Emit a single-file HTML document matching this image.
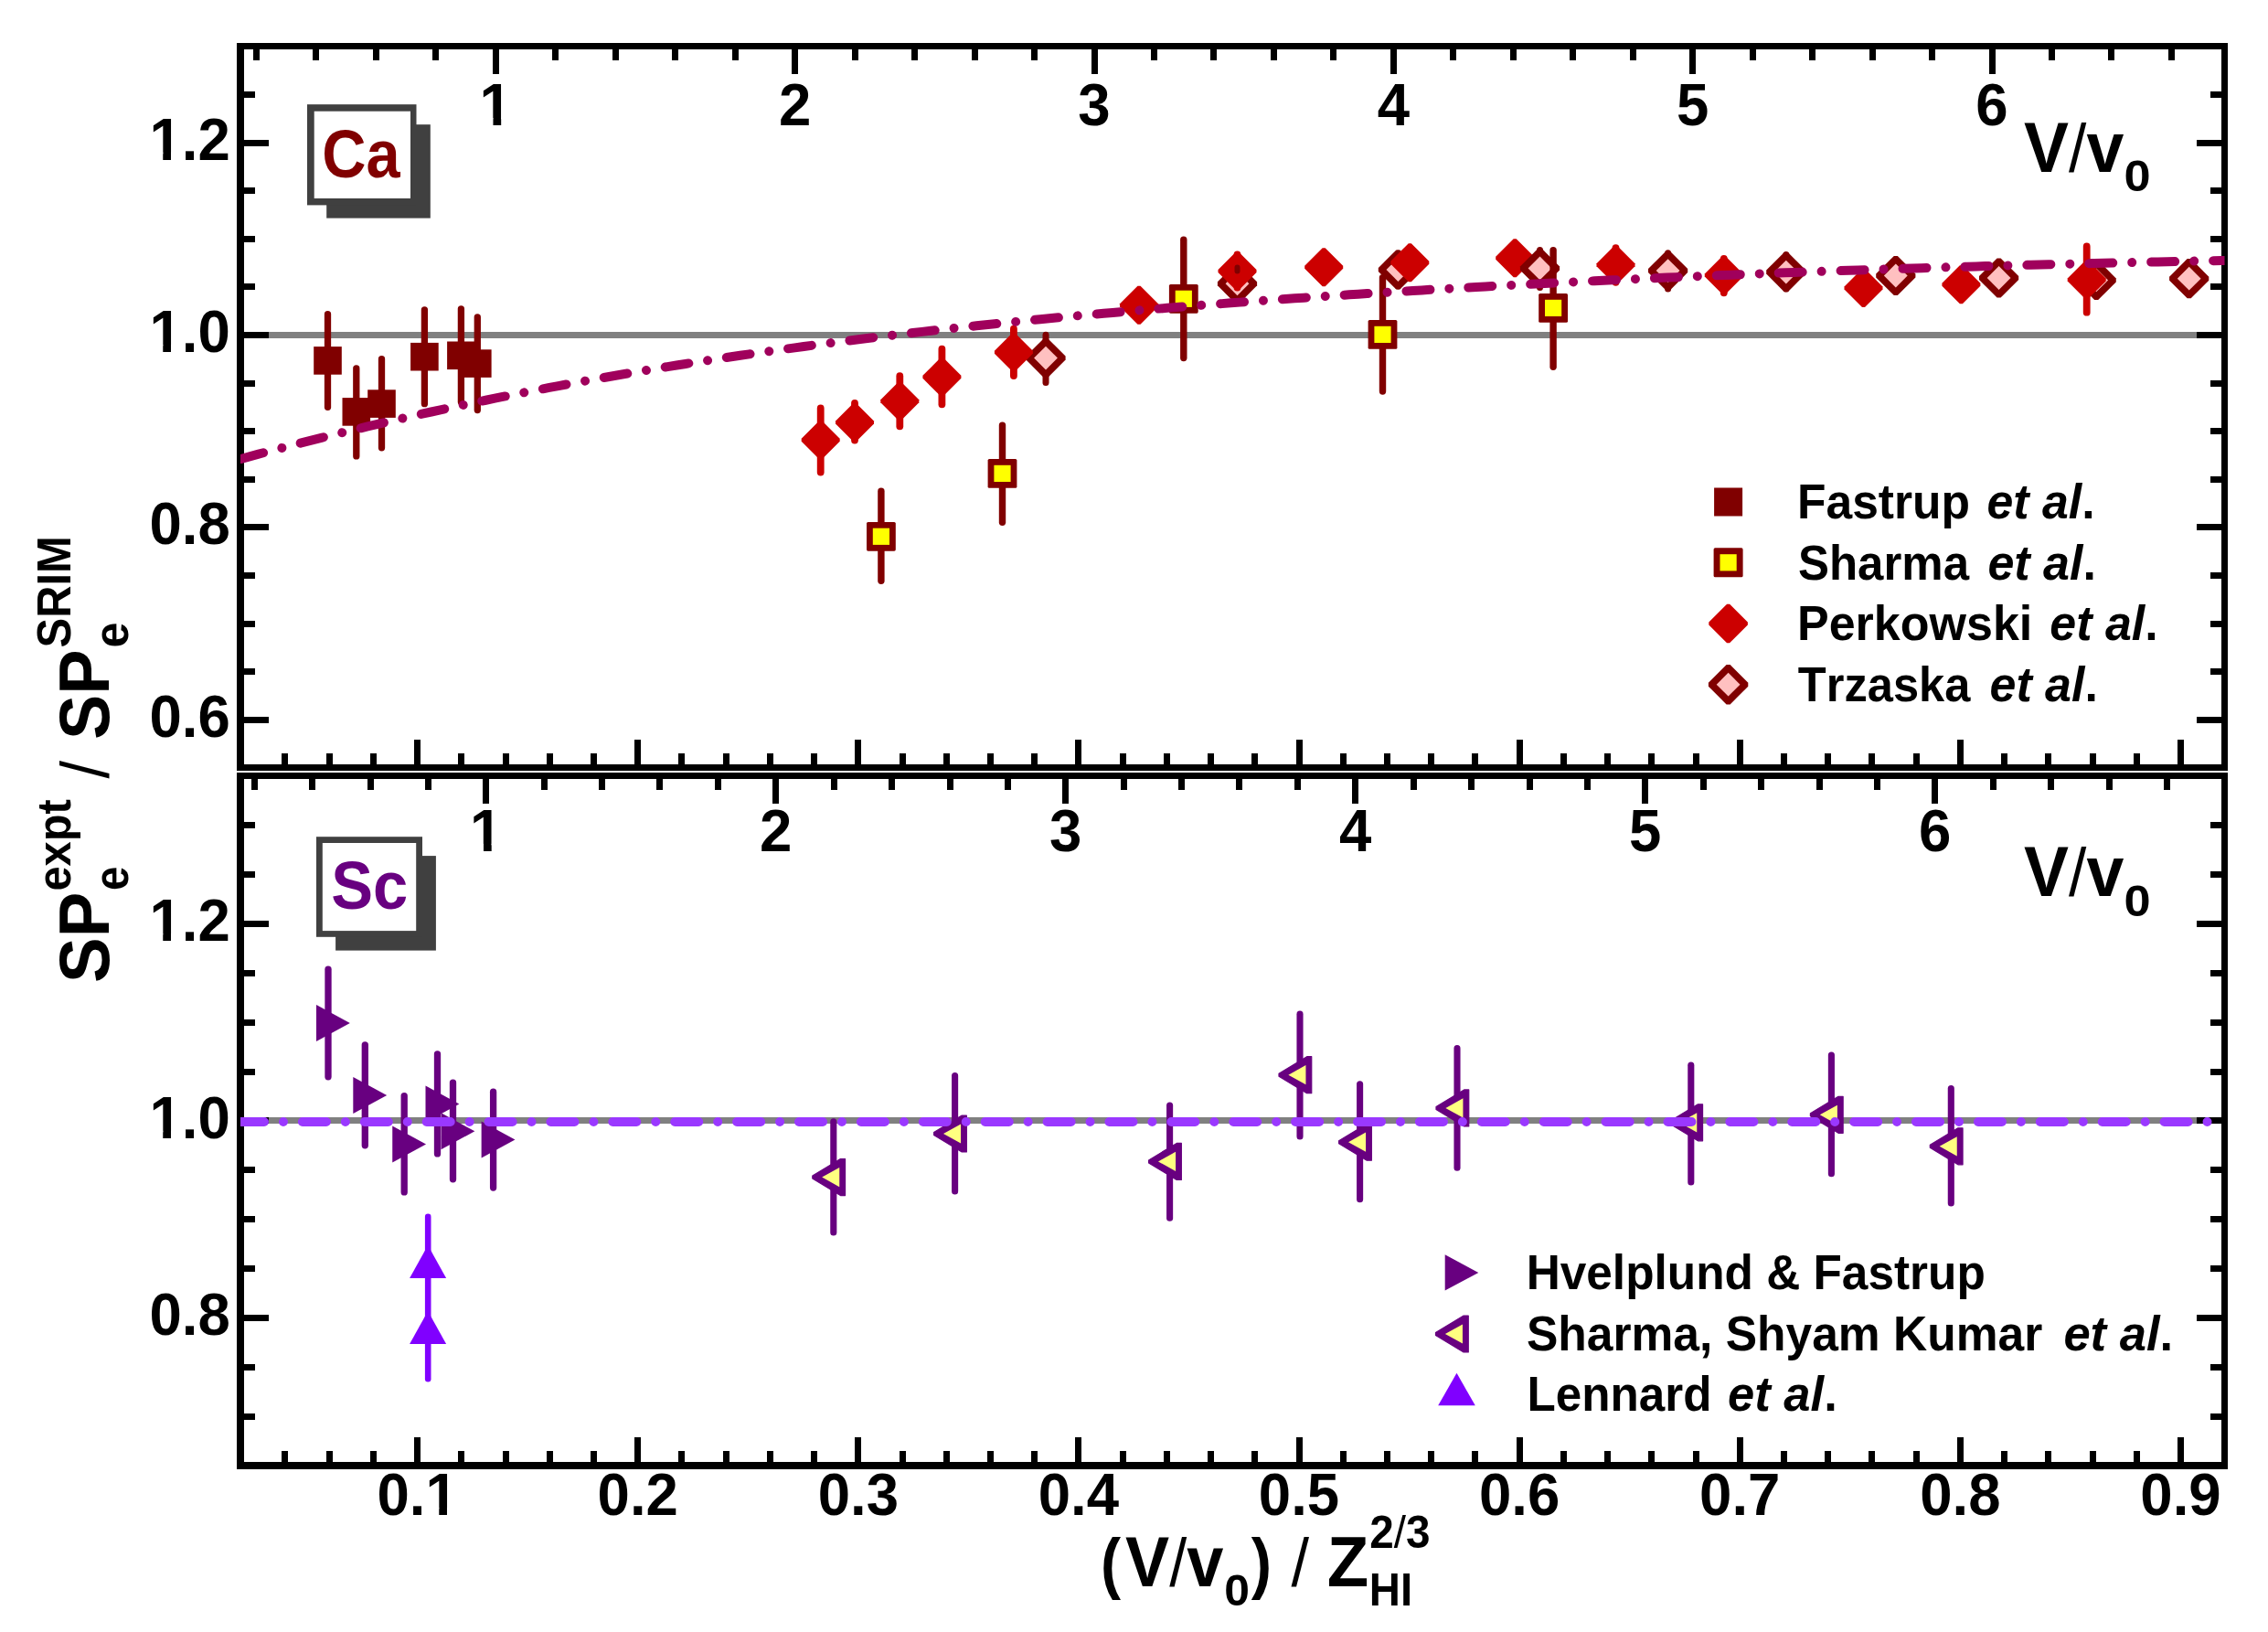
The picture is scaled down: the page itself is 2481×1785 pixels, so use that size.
<!DOCTYPE html>
<html lang="en"><head><meta charset="utf-8"><title>SP ratio vs reduced velocity</title>
<style>html,body{margin:0;padding:0;background:#fff}svg{display:block}text{font-kerning:none}</style></head><body>
<svg width="2481" height="1785" viewBox="0 0 2481 1785" font-family="'Liberation Sans', sans-serif" font-weight="bold">
<rect x="0" y="0" width="2481" height="1785" fill="#fff"/>
<defs>
<clipPath id="c1"><rect x="263" y="50" width="2170.5" height="790"/></clipPath>
<clipPath id="c2"><rect x="263" y="848" width="2170.5" height="756"/></clipPath>
</defs>
<g id="panel-ca">
<line x1="266" y1="366.5" x2="2431" y2="366.5" stroke="#808080" stroke-width="7"/>
<polygon points="1636.2,280.8 1655.7,261.3 1658.7,261.3 1678.2,280.8 1678.2,283.8 1658.7,303.3 1655.7,303.3 1636.2,283.8" fill="#cc0000"/>
<polygon points="2017.5,313.5 2037,294 2040,294 2059.5,313.5 2059.5,316.5 2040,336 2037,336 2017.5,316.5" fill="#cc0000"/>
<polygon points="2124.4,309.8 2143.9,290.3 2146.9,290.3 2166.4,309.8 2166.4,312.8 2146.9,332.3 2143.9,332.3 2124.4,312.8" fill="#cc0000"/>
<line x1="1144" y1="366.2" x2="1144" y2="418.5" stroke="#800000" stroke-width="7" stroke-linecap="round"/>
<polygon points="1122.4,389.6 1142,370 1146,370 1165.6,389.6 1165.6,393.6 1146,413.2 1142,413.2 1122.4,393.6" fill="#800000"/>
<polygon points="1131.1,391.6 1144,378.7 1156.9,391.6 1144,404.5" fill="#ffc0c0"/>
<polygon points="1331.9,308.3 1351.5,288.7 1355.5,288.7 1375.1,308.3 1375.1,312.3 1355.5,331.9 1351.5,331.9 1331.9,312.3" fill="#800000"/>
<polygon points="1340.6,310.3 1353.5,297.4 1366.4,310.3 1353.5,323.2" fill="#ffc0c0"/>
<line x1="1529.4" y1="277" x2="1529.4" y2="313" stroke="#800000" stroke-width="7" stroke-linecap="round"/>
<polygon points="1507.8,293 1527.4,273.4 1531.4,273.4 1551,293 1551,297 1531.4,316.6 1527.4,316.6 1507.8,297" fill="#800000"/>
<polygon points="1516.5,295 1529.4,282.1 1542.3,295 1529.4,307.9" fill="#ffc0c0"/>
<line x1="1684.5" y1="273.5" x2="1684.5" y2="314.5" stroke="#800000" stroke-width="7" stroke-linecap="round"/>
<polygon points="1662.9,291.4 1682.5,271.8 1686.5,271.8 1706.1,291.4 1706.1,295.4 1686.5,315 1682.5,315 1662.9,295.4" fill="#800000"/>
<polygon points="1671.6,293.4 1684.5,280.5 1697.4,293.4 1684.5,306.3" fill="#ffc0c0"/>
<line x1="1824.6" y1="276.7" x2="1824.6" y2="316.1" stroke="#800000" stroke-width="7" stroke-linecap="round"/>
<polygon points="1803,294.1 1822.6,274.5 1826.6,274.5 1846.2,294.1 1846.2,298.1 1826.6,317.7 1822.6,317.7 1803,298.1" fill="#800000"/>
<polygon points="1811.7,296.1 1824.6,283.2 1837.5,296.1 1824.6,309" fill="#ffc0c0"/>
<line x1="1953.8" y1="278.5" x2="1953.8" y2="316" stroke="#800000" stroke-width="7" stroke-linecap="round"/>
<polygon points="1932.2,295.6 1951.8,276 1955.8,276 1975.4,295.6 1975.4,299.6 1955.8,319.2 1951.8,319.2 1932.2,299.6" fill="#800000"/>
<polygon points="1940.9,297.6 1953.8,284.7 1966.7,297.6 1953.8,310.5" fill="#ffc0c0"/>
<polygon points="2052.2,299.5 2071.8,279.9 2075.8,279.9 2095.4,299.5 2095.4,303.5 2075.8,323.1 2071.8,323.1 2052.2,303.5" fill="#800000"/>
<polygon points="2060.9,301.5 2073.8,288.6 2086.7,301.5 2073.8,314.4" fill="#ffc0c0"/>
<polygon points="2165,302 2184.6,282.4 2188.6,282.4 2208.2,302 2208.2,306 2188.6,325.6 2184.6,325.6 2165,306" fill="#800000"/>
<polygon points="2173.7,304 2186.6,291.1 2199.5,304 2186.6,316.9" fill="#ffc0c0"/>
<polygon points="2271.6,304.4 2291.2,284.8 2295.2,284.8 2314.8,304.4 2314.8,308.4 2295.2,328 2291.2,328 2271.6,308.4" fill="#800000"/>
<polygon points="2280.3,306.4 2293.2,293.5 2306.1,306.4 2293.2,319.3" fill="#ffc0c0"/>
<polygon points="2373.1,302.7 2392.7,283.1 2396.7,283.1 2416.3,302.7 2416.3,306.7 2396.7,326.3 2392.7,326.3 2373.1,306.7" fill="#800000"/>
<polygon points="2381.8,304.7 2394.7,291.8 2407.6,304.7 2394.7,317.6" fill="#ffc0c0"/>
<line x1="897.7" y1="446.5" x2="897.7" y2="516.5" stroke="#cc0000" stroke-width="7.8" stroke-linecap="round"/>
<polygon points="876.7,479.7 896.2,460.2 899.2,460.2 918.7,479.7 918.7,482.7 899.2,502.2 896.2,502.2 876.7,482.7" fill="#cc0000"/>
<line x1="935" y1="441" x2="935" y2="481.5" stroke="#cc0000" stroke-width="7.8" stroke-linecap="round"/>
<polygon points="914,460.4 933.5,440.9 936.5,440.9 956,460.4 956,463.4 936.5,482.9 933.5,482.9 914,463.4" fill="#cc0000"/>
<line x1="984.3" y1="411.2" x2="984.3" y2="466.3" stroke="#cc0000" stroke-width="7.8" stroke-linecap="round"/>
<polygon points="963.3,437.3 982.8,417.8 985.8,417.8 1005.3,437.3 1005.3,440.3 985.8,459.8 982.8,459.8 963.3,440.3" fill="#cc0000"/>
<line x1="1030.4" y1="381.7" x2="1030.4" y2="442.3" stroke="#cc0000" stroke-width="7.8" stroke-linecap="round"/>
<polygon points="1009.4,410.8 1028.9,391.3 1031.9,391.3 1051.4,410.8 1051.4,413.8 1031.9,433.3 1028.9,433.3 1009.4,413.8" fill="#cc0000"/>
<line x1="1108.9" y1="359.7" x2="1108.9" y2="411.1" stroke="#cc0000" stroke-width="7.8" stroke-linecap="round"/>
<polygon points="1087.9,383.8 1107.4,364.3 1110.4,364.3 1129.9,383.8 1129.9,386.8 1110.4,406.3 1107.4,406.3 1087.9,386.8" fill="#cc0000"/>
<polygon points="1225,332.2 1244.5,312.7 1247.5,312.7 1267,332.2 1267,335.2 1247.5,354.7 1244.5,354.7 1225,335.2" fill="#cc0000"/>
<line x1="1353.5" y1="278.4" x2="1353.5" y2="314.6" stroke="#cc0000" stroke-width="7.8" stroke-linecap="round"/>
<polygon points="1332.5,295 1352,275.5 1355,275.5 1374.5,295 1374.5,298 1355,317.5 1352,317.5 1332.5,298" fill="#cc0000"/>
<polygon points="1427.2,290.8 1446.7,271.3 1449.7,271.3 1469.2,290.8 1469.2,293.8 1449.7,313.3 1446.7,313.3 1427.2,293.8" fill="#cc0000"/>
<polygon points="1521.3,285.8 1540.8,266.3 1543.8,266.3 1563.3,285.8 1563.3,288.8 1543.8,308.3 1540.8,308.3 1521.3,288.8" fill="#cc0000"/>
<line x1="1767.5" y1="271.1" x2="1767.5" y2="308.8" stroke="#cc0000" stroke-width="7.8" stroke-linecap="round"/>
<polygon points="1746.5,288.3 1766,268.8 1769,268.8 1788.5,288.3 1788.5,291.3 1769,310.8 1766,310.8 1746.5,291.3" fill="#cc0000"/>
<line x1="1885.8" y1="282.9" x2="1885.8" y2="320.3" stroke="#cc0000" stroke-width="7.8" stroke-linecap="round"/>
<polygon points="1864.8,299.6 1884.3,280.1 1887.3,280.1 1906.8,299.6 1906.8,302.6 1887.3,322.1 1884.3,322.1 1864.8,302.6" fill="#cc0000"/>
<line x1="2282.7" y1="269.4" x2="2282.7" y2="341.7" stroke="#cc0000" stroke-width="7.8" stroke-linecap="round"/>
<polygon points="2261.7,304.4 2281.2,284.9 2284.2,284.9 2303.7,304.4 2303.7,307.4 2284.2,326.9 2281.2,326.9 2261.7,307.4" fill="#cc0000"/>
<line x1="1353.5" y1="292.5" x2="1353.5" y2="296.5" stroke="#800000" stroke-width="6" stroke-linecap="round"/>
<line x1="963.9" y1="537.3" x2="963.9" y2="635.2" stroke="#800000" stroke-width="7.4" stroke-linecap="round"/>
<rect x="948" y="570.9" width="31.8" height="31.8" rx="1.6" fill="#800000"/>
<rect x="954.8" y="577.7" width="18.2" height="18.2" fill="#ffff00"/>
<line x1="1096.5" y1="465.1" x2="1096.5" y2="571.3" stroke="#800000" stroke-width="7.4" stroke-linecap="round"/>
<rect x="1080.6" y="502" width="31.8" height="31.8" rx="1.6" fill="#800000"/>
<rect x="1087.4" y="508.8" width="18.2" height="18.2" fill="#ffff00"/>
<line x1="1294.8" y1="262.2" x2="1294.8" y2="391.5" stroke="#800000" stroke-width="7.4" stroke-linecap="round"/>
<rect x="1278.9" y="310.9" width="31.8" height="31.8" rx="1.6" fill="#800000"/>
<rect x="1285.7" y="317.7" width="18.2" height="18.2" fill="#ffff00"/>
<line x1="1512.5" y1="303.7" x2="1512.5" y2="428.1" stroke="#800000" stroke-width="7.4" stroke-linecap="round"/>
<rect x="1496.6" y="350" width="31.8" height="31.8" rx="1.6" fill="#800000"/>
<rect x="1503.4" y="356.8" width="18.2" height="18.2" fill="#ffff00"/>
<line x1="1699.1" y1="273.6" x2="1699.1" y2="401.3" stroke="#800000" stroke-width="7.4" stroke-linecap="round"/>
<rect x="1683.2" y="321" width="31.8" height="31.8" rx="1.6" fill="#800000"/>
<rect x="1690" y="327.8" width="18.2" height="18.2" fill="#ffff00"/>
<line x1="358.5" y1="343.65" x2="358.5" y2="445.25" stroke="#800000" stroke-width="7.3" stroke-linecap="round"/>
<rect x="343.2" y="379.1" width="30.6" height="30.6" fill="#800000"/>
<line x1="389.8" y1="402.95" x2="389.8" y2="498.95" stroke="#800000" stroke-width="7.3" stroke-linecap="round"/>
<rect x="374.5" y="435.1" width="30.6" height="30.6" fill="#800000"/>
<line x1="417.5" y1="392.65" x2="417.5" y2="489.85" stroke="#800000" stroke-width="7.3" stroke-linecap="round"/>
<rect x="402.2" y="426.3" width="30.6" height="30.6" fill="#800000"/>
<line x1="464.4" y1="338.95" x2="464.4" y2="441.65" stroke="#800000" stroke-width="7.3" stroke-linecap="round"/>
<rect x="449.1" y="374.9" width="30.6" height="30.6" fill="#800000"/>
<line x1="504.4" y1="337.85" x2="504.4" y2="439.75" stroke="#800000" stroke-width="7.3" stroke-linecap="round"/>
<rect x="489.1" y="373.5" width="30.6" height="30.6" fill="#800000"/>
<line x1="522.3" y1="346.95" x2="522.3" y2="448.55" stroke="#800000" stroke-width="7.3" stroke-linecap="round"/>
<rect x="507" y="382.3" width="30.6" height="30.6" fill="#800000"/>
<rect x="357.2" y="136.2" width="113.6" height="102.4" fill="#404040"/>
<rect x="336" y="114.2" width="119.5" height="110.2" fill="#404040"/>
<rect x="343.7" y="121.7" width="105.3" height="95.3" fill="#fff"/>
<text transform="translate(352.26,194.2) scale(0.8946,1)" font-size="74.6" fill="#800000">Ca</text>
<rect x="1875.1" y="533.5" width="31" height="31" fill="#800000"/>
<rect x="1874.6" y="599.3" width="32" height="32" rx="1.6" fill="#800000"/>
<rect x="1881.5" y="606.2" width="18.2" height="18.2" fill="#ffff00"/>
<polygon points="1869.3,680.5 1889.1,660.7 1892.1,660.7 1911.9,680.5 1911.9,683.5 1892.1,703.3 1889.1,703.3 1869.3,683.5" fill="#cc0000"/>
<polygon points="1868.9,746.7 1888.6,727 1892.6,727 1912.3,746.7 1912.3,750.7 1892.6,770.4 1888.6,770.4 1868.9,750.7" fill="#800000"/>
<polygon points="1877.7,748.7 1890.6,735.8 1903.5,748.7 1890.6,761.6" fill="#ffc0c0"/>
<text transform="translate(1966.05,567) scale(0.9543,1)" font-size="54" fill="#000">Fastrup</text>
<text transform="translate(2173.5,567) scale(0.9603,1)" font-size="54" fill="#000"><tspan font-style="italic">et al</tspan>.</text>
<text transform="translate(1966.93,633.8) scale(0.9447,1)" font-size="54" fill="#000">Sharma</text>
<text transform="translate(2174.4,633.8) scale(0.9637,1)" font-size="54" fill="#000"><tspan font-style="italic">et al</tspan>.</text>
<text transform="translate(1966.02,700) scale(0.9630,1)" font-size="54" fill="#000">Perkowski</text>
<text transform="translate(2242.3,700) scale(0.9620,1)" font-size="54" fill="#000"><tspan font-style="italic">et al</tspan>.</text>
<text transform="translate(1966.83,766.6) scale(0.9374,1)" font-size="54" fill="#000">Trzaska</text>
<text transform="translate(2176.5,766.6) scale(0.9620,1)" font-size="54" fill="#000"><tspan font-style="italic">et al</tspan>.</text>
<text transform="translate(2214.1,187.5) scale(0.9422,1)" font-size="78" fill="#000">V<tspan font-weight="normal" font-size="73.87">/</tspan>v</text>
<text transform="translate(2323.53,208.9) scale(1.0976,1)" font-size="47.7" fill="#000">0</text>
</g>
<g id="panel-sc">
<line x1="266" y1="1225.5" x2="2431" y2="1225.5" stroke="#808080" stroke-width="7"/>
<line x1="359" y1="1060.15" x2="359" y2="1177.85" stroke="#680080" stroke-width="7.3" stroke-linecap="round"/>
<polygon points="346.03,1099 382.83,1119 346.03,1139" fill="#680080"/>
<line x1="399.3" y1="1142.85" x2="399.3" y2="1252.75" stroke="#680080" stroke-width="7.3" stroke-linecap="round"/>
<polygon points="386.33,1177.9 423.13,1197.9 386.33,1217.9" fill="#680080"/>
<line x1="442.2" y1="1198.75" x2="442.2" y2="1303.95" stroke="#680080" stroke-width="7.3" stroke-linecap="round"/>
<polygon points="429.23,1231.4 466.03,1251.4 429.23,1271.4" fill="#680080"/>
<line x1="478.5" y1="1152.85" x2="478.5" y2="1261.95" stroke="#680080" stroke-width="7.3" stroke-linecap="round"/>
<polygon points="465.53,1187.5 502.33,1207.5 465.53,1227.5" fill="#680080"/>
<line x1="495.5" y1="1184.05" x2="495.5" y2="1289.85" stroke="#680080" stroke-width="7.3" stroke-linecap="round"/>
<polygon points="482.53,1217.3 519.33,1237.3 482.53,1257.3" fill="#680080"/>
<line x1="539.6" y1="1194.25" x2="539.6" y2="1299.05" stroke="#680080" stroke-width="7.3" stroke-linecap="round"/>
<polygon points="526.63,1226.6 563.43,1246.6 526.63,1266.6" fill="#680080"/>
<line x1="911.8" y1="1226.85" x2="911.8" y2="1348.05" stroke="#680080" stroke-width="7.1" stroke-linecap="round"/>
<polygon points="888.8,1286.1 919.4,1267.6 924.55,1267.6 924.55,1307.6 919.4,1307.6 888.8,1289.1" fill="#680080" stroke="#680080" stroke-width="1.2" stroke-linejoin="round"/>
<polygon points="899.2,1287.6 918.25,1277 918.25,1298.2" fill="#ffff80"/>
<line x1="1044.6" y1="1176.55" x2="1044.6" y2="1303.05" stroke="#680080" stroke-width="7.1" stroke-linecap="round"/>
<polygon points="1021.6,1238.5 1052.2,1220 1057.35,1220 1057.35,1260 1052.2,1260 1021.6,1241.5" fill="#680080" stroke="#680080" stroke-width="1.2" stroke-linejoin="round"/>
<polygon points="1032,1240 1051.05,1229.4 1051.05,1250.6" fill="#ffff80"/>
<line x1="1279.6" y1="1209.15" x2="1279.6" y2="1332.15" stroke="#680080" stroke-width="7.1" stroke-linecap="round"/>
<polygon points="1256.6,1268.9 1287.2,1250.4 1292.35,1250.4 1292.35,1290.4 1287.2,1290.4 1256.6,1271.9" fill="#680080" stroke="#680080" stroke-width="1.2" stroke-linejoin="round"/>
<polygon points="1267,1270.4 1286.05,1259.8 1286.05,1281" fill="#ffff80"/>
<line x1="1422" y1="1109.15" x2="1422" y2="1243.05" stroke="#680080" stroke-width="7.1" stroke-linecap="round"/>
<polygon points="1399,1174.2 1429.6,1155.7 1434.75,1155.7 1434.75,1195.7 1429.6,1195.7 1399,1177.2" fill="#680080" stroke="#680080" stroke-width="1.2" stroke-linejoin="round"/>
<polygon points="1409.4,1175.7 1428.45,1165.1 1428.45,1186.3" fill="#ffff80"/>
<line x1="1487.6" y1="1185.85" x2="1487.6" y2="1311.75" stroke="#680080" stroke-width="7.1" stroke-linecap="round"/>
<polygon points="1464.6,1247.7 1495.2,1229.2 1500.35,1229.2 1500.35,1269.2 1495.2,1269.2 1464.6,1250.7" fill="#680080" stroke="#680080" stroke-width="1.2" stroke-linejoin="round"/>
<polygon points="1475,1249.2 1494.05,1238.6 1494.05,1259.8" fill="#ffff80"/>
<line x1="1594" y1="1146.65" x2="1594" y2="1277.15" stroke="#680080" stroke-width="7.1" stroke-linecap="round"/>
<polygon points="1571,1210.4 1601.6,1191.9 1606.75,1191.9 1606.75,1231.9 1601.6,1231.9 1571,1213.4" fill="#680080" stroke="#680080" stroke-width="1.2" stroke-linejoin="round"/>
<polygon points="1581.4,1211.9 1600.45,1201.3 1600.45,1222.5" fill="#ffff80"/>
<line x1="1849.8" y1="1165.15" x2="1849.8" y2="1293.05" stroke="#680080" stroke-width="7.1" stroke-linecap="round"/>
<polygon points="1826.8,1226.3 1857.4,1207.8 1862.55,1207.8 1862.55,1247.8 1857.4,1247.8 1826.8,1229.3" fill="#680080" stroke="#680080" stroke-width="1.2" stroke-linejoin="round"/>
<polygon points="1837.2,1227.8 1856.25,1217.2 1856.25,1238.4" fill="#ffff80"/>
<line x1="2003.4" y1="1153.95" x2="2003.4" y2="1283.75" stroke="#680080" stroke-width="7.1" stroke-linecap="round"/>
<polygon points="1980.4,1217.8 2011,1199.3 2016.15,1199.3 2016.15,1239.3 2011,1239.3 1980.4,1220.8" fill="#680080" stroke="#680080" stroke-width="1.2" stroke-linejoin="round"/>
<polygon points="1990.8,1219.3 2009.85,1208.7 2009.85,1229.9" fill="#ffff80"/>
<line x1="2134.3" y1="1190.65" x2="2134.3" y2="1315.95" stroke="#680080" stroke-width="7.1" stroke-linecap="round"/>
<polygon points="2111.3,1252.3 2141.9,1233.8 2147.05,1233.8 2147.05,1273.8 2141.9,1273.8 2111.3,1255.3" fill="#680080" stroke="#680080" stroke-width="1.2" stroke-linejoin="round"/>
<polygon points="2121.7,1253.8 2140.75,1243.2 2140.75,1264.4" fill="#ffff80"/>
<line x1="468.2" y1="1330.8" x2="468.2" y2="1508.2" stroke="#8000ff" stroke-width="6.6" stroke-linecap="round"/>
<polygon points="448.1,1398 468.1,1362 488.1,1398" fill="#8000ff"/>
<polygon points="448.1,1470 468.1,1434 488.1,1470" fill="#8000ff"/>
<rect x="367.1" y="936.1" width="109.8" height="103.5" fill="#404040"/>
<rect x="346" y="915.2" width="116" height="109.6" fill="#404040"/>
<rect x="352.8" y="922" width="102.4" height="96.1" fill="#fff"/>
<text transform="translate(362.22,993.9) scale(0.9205,1)" font-size="74.6" fill="#680080">Sc</text>
<polygon points="1580.7,1372.2 1617.3,1391.9 1580.7,1411.6" fill="#680080"/>
<polygon points="1570.5,1457.5 1601.1,1439 1606.25,1439 1606.25,1479 1601.1,1479 1570.5,1460.5" fill="#680080" stroke="#680080" stroke-width="1.2" stroke-linejoin="round"/>
<polygon points="1580.9,1459 1599.95,1448.4 1599.95,1469.6" fill="#ffff80"/>
<polygon points="1573.2,1537.33 1593.5,1501.83 1613.8,1537.33" fill="#8000ff"/>
<text transform="translate(1669.66,1409.8) scale(0.9512,1)" font-size="54" fill="#000">Hvelplund &amp; Fastrup</text>
<text transform="translate(1669.91,1477) scale(0.9549,1)" font-size="54" fill="#000">Sharma, Shyam Kumar</text>
<text transform="translate(2257.38,1477) scale(0.9730,1)" font-size="54" fill="#000"><tspan font-style="italic">et al</tspan>.</text>
<text transform="translate(1670.47,1542.5) scale(0.9483,1)" font-size="54" fill="#000">Lennard</text>
<text transform="translate(1889.98,1542.5) scale(0.9739,1)" font-size="54" fill="#000"><tspan font-style="italic">et al</tspan>.</text>
<text transform="translate(2214.1,980.3) scale(0.9422,1)" font-size="78" fill="#000">V<tspan font-weight="normal" font-size="73.87">/</tspan>v</text>
<text transform="translate(2323.53,1001.7) scale(1.0976,1)" font-size="47.7" fill="#000">0</text>
</g>
<g id="axes" fill="#000">
<rect x="277" y="48" width="7" height="18" fill="#000"/>
<rect x="342" y="48" width="7" height="18" fill="#000"/>
<rect x="408" y="48" width="7" height="18" fill="#000"/>
<rect x="473" y="48" width="7" height="18" fill="#000"/>
<rect x="539" y="48" width="7" height="33" fill="#000"/>
<rect x="604" y="48" width="7" height="18" fill="#000"/>
<rect x="670" y="48" width="7" height="18" fill="#000"/>
<rect x="735" y="48" width="7" height="18" fill="#000"/>
<rect x="801" y="48" width="7" height="18" fill="#000"/>
<rect x="866" y="48" width="7" height="33" fill="#000"/>
<rect x="932" y="48" width="7" height="18" fill="#000"/>
<rect x="997" y="48" width="7" height="18" fill="#000"/>
<rect x="1063" y="48" width="7" height="18" fill="#000"/>
<rect x="1128" y="48" width="7" height="18" fill="#000"/>
<rect x="1194" y="48" width="7" height="33" fill="#000"/>
<rect x="1259" y="48" width="7" height="18" fill="#000"/>
<rect x="1324" y="48" width="7" height="18" fill="#000"/>
<rect x="1390" y="48" width="7" height="18" fill="#000"/>
<rect x="1455" y="48" width="7" height="18" fill="#000"/>
<rect x="1521" y="48" width="7" height="33" fill="#000"/>
<rect x="1586" y="48" width="7" height="18" fill="#000"/>
<rect x="1652" y="48" width="7" height="18" fill="#000"/>
<rect x="1717" y="48" width="7" height="18" fill="#000"/>
<rect x="1783" y="48" width="7" height="18" fill="#000"/>
<rect x="1848" y="48" width="7" height="33" fill="#000"/>
<rect x="1914" y="48" width="7" height="18" fill="#000"/>
<rect x="1979" y="48" width="7" height="18" fill="#000"/>
<rect x="2045" y="48" width="7" height="18" fill="#000"/>
<rect x="2110" y="48" width="7" height="18" fill="#000"/>
<rect x="2176" y="48" width="7" height="33" fill="#000"/>
<rect x="2241" y="48" width="7" height="18" fill="#000"/>
<rect x="2306" y="48" width="7" height="18" fill="#000"/>
<rect x="2372" y="48" width="7" height="18" fill="#000"/>
<rect x="308" y="824" width="7" height="18" fill="#000"/>
<rect x="357" y="824" width="7" height="18" fill="#000"/>
<rect x="405" y="824" width="7" height="18" fill="#000"/>
<rect x="453" y="809" width="7" height="33" fill="#000"/>
<rect x="501" y="824" width="7" height="18" fill="#000"/>
<rect x="550" y="824" width="7" height="18" fill="#000"/>
<rect x="598" y="824" width="7" height="18" fill="#000"/>
<rect x="646" y="824" width="7" height="18" fill="#000"/>
<rect x="694" y="809" width="7" height="33" fill="#000"/>
<rect x="742" y="824" width="7" height="18" fill="#000"/>
<rect x="791" y="824" width="7" height="18" fill="#000"/>
<rect x="839" y="824" width="7" height="18" fill="#000"/>
<rect x="887" y="824" width="7" height="18" fill="#000"/>
<rect x="935" y="809" width="7" height="33" fill="#000"/>
<rect x="984" y="824" width="7" height="18" fill="#000"/>
<rect x="1032" y="824" width="7" height="18" fill="#000"/>
<rect x="1080" y="824" width="7" height="18" fill="#000"/>
<rect x="1128" y="824" width="7" height="18" fill="#000"/>
<rect x="1176" y="809" width="7" height="33" fill="#000"/>
<rect x="1225" y="824" width="7" height="18" fill="#000"/>
<rect x="1273" y="824" width="7" height="18" fill="#000"/>
<rect x="1321" y="824" width="7" height="18" fill="#000"/>
<rect x="1369" y="824" width="7" height="18" fill="#000"/>
<rect x="1418" y="809" width="7" height="33" fill="#000"/>
<rect x="1466" y="824" width="7" height="18" fill="#000"/>
<rect x="1514" y="824" width="7" height="18" fill="#000"/>
<rect x="1562" y="824" width="7" height="18" fill="#000"/>
<rect x="1610" y="824" width="7" height="18" fill="#000"/>
<rect x="1659" y="809" width="7" height="33" fill="#000"/>
<rect x="1707" y="824" width="7" height="18" fill="#000"/>
<rect x="1755" y="824" width="7" height="18" fill="#000"/>
<rect x="1803" y="824" width="7" height="18" fill="#000"/>
<rect x="1852" y="824" width="7" height="18" fill="#000"/>
<rect x="1900" y="809" width="7" height="33" fill="#000"/>
<rect x="1948" y="824" width="7" height="18" fill="#000"/>
<rect x="1996" y="824" width="7" height="18" fill="#000"/>
<rect x="2044" y="824" width="7" height="18" fill="#000"/>
<rect x="2093" y="824" width="7" height="18" fill="#000"/>
<rect x="2141" y="809" width="7" height="33" fill="#000"/>
<rect x="2189" y="824" width="7" height="18" fill="#000"/>
<rect x="2237" y="824" width="7" height="18" fill="#000"/>
<rect x="2286" y="824" width="7" height="18" fill="#000"/>
<rect x="2334" y="824" width="7" height="18" fill="#000"/>
<rect x="2382" y="809" width="7" height="33" fill="#000"/>
<rect x="260" y="784" width="34" height="7" fill="#000"/>
<rect x="2403" y="784" width="33" height="7" fill="#000"/>
<rect x="260" y="731" width="19" height="7" fill="#000"/>
<rect x="2418" y="731" width="18" height="7" fill="#000"/>
<rect x="260" y="679" width="19" height="7" fill="#000"/>
<rect x="2418" y="679" width="18" height="7" fill="#000"/>
<rect x="260" y="626" width="19" height="7" fill="#000"/>
<rect x="2418" y="626" width="18" height="7" fill="#000"/>
<rect x="260" y="573" width="34" height="7" fill="#000"/>
<rect x="2403" y="573" width="33" height="7" fill="#000"/>
<rect x="260" y="521" width="19" height="7" fill="#000"/>
<rect x="2418" y="521" width="18" height="7" fill="#000"/>
<rect x="260" y="468" width="19" height="7" fill="#000"/>
<rect x="2418" y="468" width="18" height="7" fill="#000"/>
<rect x="260" y="416" width="19" height="7" fill="#000"/>
<rect x="2418" y="416" width="18" height="7" fill="#000"/>
<rect x="260" y="363" width="34" height="7" fill="#000"/>
<rect x="2403" y="363" width="33" height="7" fill="#000"/>
<rect x="260" y="310" width="19" height="7" fill="#000"/>
<rect x="2418" y="310" width="18" height="7" fill="#000"/>
<rect x="260" y="258" width="19" height="7" fill="#000"/>
<rect x="2418" y="258" width="18" height="7" fill="#000"/>
<rect x="260" y="205" width="19" height="7" fill="#000"/>
<rect x="2418" y="205" width="18" height="7" fill="#000"/>
<rect x="260" y="153" width="34" height="7" fill="#000"/>
<rect x="2403" y="153" width="33" height="7" fill="#000"/>
<rect x="260" y="100" width="19" height="7" fill="#000"/>
<rect x="2418" y="100" width="18" height="7" fill="#000"/>
<rect x="275" y="846" width="7" height="18" fill="#000"/>
<rect x="338" y="846" width="7" height="18" fill="#000"/>
<rect x="402" y="846" width="7" height="18" fill="#000"/>
<rect x="465" y="846" width="7" height="18" fill="#000"/>
<rect x="528" y="846" width="7" height="33" fill="#000"/>
<rect x="592" y="846" width="7" height="18" fill="#000"/>
<rect x="655" y="846" width="7" height="18" fill="#000"/>
<rect x="718" y="846" width="7" height="18" fill="#000"/>
<rect x="782" y="846" width="7" height="18" fill="#000"/>
<rect x="845" y="846" width="7" height="33" fill="#000"/>
<rect x="909" y="846" width="7" height="18" fill="#000"/>
<rect x="972" y="846" width="7" height="18" fill="#000"/>
<rect x="1036" y="846" width="7" height="18" fill="#000"/>
<rect x="1099" y="846" width="7" height="18" fill="#000"/>
<rect x="1162" y="846" width="7" height="33" fill="#000"/>
<rect x="1226" y="846" width="7" height="18" fill="#000"/>
<rect x="1289" y="846" width="7" height="18" fill="#000"/>
<rect x="1352" y="846" width="7" height="18" fill="#000"/>
<rect x="1416" y="846" width="7" height="18" fill="#000"/>
<rect x="1479" y="846" width="7" height="33" fill="#000"/>
<rect x="1543" y="846" width="7" height="18" fill="#000"/>
<rect x="1606" y="846" width="7" height="18" fill="#000"/>
<rect x="1670" y="846" width="7" height="18" fill="#000"/>
<rect x="1733" y="846" width="7" height="18" fill="#000"/>
<rect x="1796" y="846" width="7" height="33" fill="#000"/>
<rect x="1860" y="846" width="7" height="18" fill="#000"/>
<rect x="1923" y="846" width="7" height="18" fill="#000"/>
<rect x="1987" y="846" width="7" height="18" fill="#000"/>
<rect x="2050" y="846" width="7" height="18" fill="#000"/>
<rect x="2113" y="846" width="7" height="33" fill="#000"/>
<rect x="2177" y="846" width="7" height="18" fill="#000"/>
<rect x="2240" y="846" width="7" height="18" fill="#000"/>
<rect x="2304" y="846" width="7" height="18" fill="#000"/>
<rect x="2367" y="846" width="7" height="18" fill="#000"/>
<rect x="308" y="1587" width="7" height="19" fill="#000"/>
<rect x="357" y="1587" width="7" height="19" fill="#000"/>
<rect x="405" y="1587" width="7" height="19" fill="#000"/>
<rect x="453" y="1572" width="7" height="34" fill="#000"/>
<rect x="501" y="1587" width="7" height="19" fill="#000"/>
<rect x="550" y="1587" width="7" height="19" fill="#000"/>
<rect x="598" y="1587" width="7" height="19" fill="#000"/>
<rect x="646" y="1587" width="7" height="19" fill="#000"/>
<rect x="694" y="1572" width="7" height="34" fill="#000"/>
<rect x="742" y="1587" width="7" height="19" fill="#000"/>
<rect x="791" y="1587" width="7" height="19" fill="#000"/>
<rect x="839" y="1587" width="7" height="19" fill="#000"/>
<rect x="887" y="1587" width="7" height="19" fill="#000"/>
<rect x="935" y="1572" width="7" height="34" fill="#000"/>
<rect x="984" y="1587" width="7" height="19" fill="#000"/>
<rect x="1032" y="1587" width="7" height="19" fill="#000"/>
<rect x="1080" y="1587" width="7" height="19" fill="#000"/>
<rect x="1128" y="1587" width="7" height="19" fill="#000"/>
<rect x="1176" y="1572" width="7" height="34" fill="#000"/>
<rect x="1225" y="1587" width="7" height="19" fill="#000"/>
<rect x="1273" y="1587" width="7" height="19" fill="#000"/>
<rect x="1321" y="1587" width="7" height="19" fill="#000"/>
<rect x="1369" y="1587" width="7" height="19" fill="#000"/>
<rect x="1418" y="1572" width="7" height="34" fill="#000"/>
<rect x="1466" y="1587" width="7" height="19" fill="#000"/>
<rect x="1514" y="1587" width="7" height="19" fill="#000"/>
<rect x="1562" y="1587" width="7" height="19" fill="#000"/>
<rect x="1610" y="1587" width="7" height="19" fill="#000"/>
<rect x="1659" y="1572" width="7" height="34" fill="#000"/>
<rect x="1707" y="1587" width="7" height="19" fill="#000"/>
<rect x="1755" y="1587" width="7" height="19" fill="#000"/>
<rect x="1803" y="1587" width="7" height="19" fill="#000"/>
<rect x="1852" y="1587" width="7" height="19" fill="#000"/>
<rect x="1900" y="1572" width="7" height="34" fill="#000"/>
<rect x="1948" y="1587" width="7" height="19" fill="#000"/>
<rect x="1996" y="1587" width="7" height="19" fill="#000"/>
<rect x="2044" y="1587" width="7" height="19" fill="#000"/>
<rect x="2093" y="1587" width="7" height="19" fill="#000"/>
<rect x="2141" y="1572" width="7" height="34" fill="#000"/>
<rect x="2189" y="1587" width="7" height="19" fill="#000"/>
<rect x="2237" y="1587" width="7" height="19" fill="#000"/>
<rect x="2286" y="1587" width="7" height="19" fill="#000"/>
<rect x="2334" y="1587" width="7" height="19" fill="#000"/>
<rect x="2382" y="1572" width="7" height="34" fill="#000"/>
<rect x="260" y="1546" width="19" height="7" fill="#000"/>
<rect x="2418" y="1546" width="18" height="7" fill="#000"/>
<rect x="260" y="1492" width="19" height="7" fill="#000"/>
<rect x="2418" y="1492" width="18" height="7" fill="#000"/>
<rect x="260" y="1438" width="34" height="7" fill="#000"/>
<rect x="2403" y="1438" width="33" height="7" fill="#000"/>
<rect x="260" y="1384" width="19" height="7" fill="#000"/>
<rect x="2418" y="1384" width="18" height="7" fill="#000"/>
<rect x="260" y="1330" width="19" height="7" fill="#000"/>
<rect x="2418" y="1330" width="18" height="7" fill="#000"/>
<rect x="260" y="1276" width="19" height="7" fill="#000"/>
<rect x="2418" y="1276" width="18" height="7" fill="#000"/>
<rect x="260" y="1222" width="34" height="7" fill="#000"/>
<rect x="2403" y="1222" width="33" height="7" fill="#000"/>
<rect x="260" y="1169" width="19" height="7" fill="#000"/>
<rect x="2418" y="1169" width="18" height="7" fill="#000"/>
<rect x="260" y="1115" width="19" height="7" fill="#000"/>
<rect x="2418" y="1115" width="18" height="7" fill="#000"/>
<rect x="260" y="1061" width="19" height="7" fill="#000"/>
<rect x="2418" y="1061" width="18" height="7" fill="#000"/>
<rect x="260" y="1007" width="34" height="7" fill="#000"/>
<rect x="2403" y="1007" width="33" height="7" fill="#000"/>
<rect x="260" y="953" width="19" height="7" fill="#000"/>
<rect x="2418" y="953" width="18" height="7" fill="#000"/>
<rect x="260" y="899" width="19" height="7" fill="#000"/>
<rect x="2418" y="899" width="18" height="7" fill="#000"/>
<rect x="259" y="47" width="8" height="796" fill="#000"/>
<rect x="2430" y="47" width="7" height="796" fill="#000"/>
<rect x="259" y="47" width="2178" height="7" fill="#000"/>
<rect x="259" y="836" width="2178" height="7" fill="#000"/>
<rect x="259" y="845" width="8" height="762" fill="#000"/>
<rect x="2430" y="845" width="7" height="762" fill="#000"/>
<rect x="259" y="845" width="2178" height="7" fill="#000"/>
<rect x="259" y="1599" width="2178" height="8" fill="#000"/>
<text transform="translate(163.43,174.5) scale(0.972,1)" font-size="65.4">1.2</text>
<rect x="166.22" y="166.63" width="12.04" height="8.87" fill="#fff"/>
<rect x="186.99" y="166.63" width="11.21" height="8.87" fill="#fff"/>
<text transform="translate(163.43,384.9) scale(0.972,1)" font-size="65.4">1.0</text>
<rect x="166.22" y="377.03" width="12.04" height="8.87" fill="#fff"/>
<rect x="186.99" y="377.03" width="11.21" height="8.87" fill="#fff"/>
<text transform="translate(163.43,595.3) scale(0.972,1)" font-size="65.4">0.8</text>
<text transform="translate(163.43,805.7) scale(0.972,1)" font-size="65.4">0.6</text>
<text transform="translate(163.43,1029) scale(0.972,1)" font-size="65.4">1.2</text>
<rect x="166.22" y="1021.13" width="12.04" height="8.87" fill="#fff"/>
<rect x="186.99" y="1021.13" width="11.21" height="8.87" fill="#fff"/>
<text transform="translate(163.43,1244.6) scale(0.972,1)" font-size="65.4">1.0</text>
<rect x="166.22" y="1236.73" width="12.04" height="8.87" fill="#fff"/>
<rect x="186.99" y="1236.73" width="11.21" height="8.87" fill="#fff"/>
<text transform="translate(163.43,1460.2) scale(0.972,1)" font-size="65.4">0.8</text>
<text transform="translate(524.62,136.9) scale(0.972,1)" font-size="65.4">1</text>
<rect x="527.42" y="129.03" width="12.04" height="8.87" fill="#fff"/>
<rect x="548.18" y="129.03" width="11.21" height="8.87" fill="#fff"/>
<text transform="translate(514.12,930.8) scale(0.972,1)" font-size="65.4">1</text>
<rect x="516.92" y="922.93" width="12.04" height="8.87" fill="#fff"/>
<rect x="537.68" y="922.93" width="11.21" height="8.87" fill="#fff"/>
<text transform="translate(851.97,136.9) scale(0.972,1)" font-size="65.4">2</text>
<text transform="translate(831.12,930.8) scale(0.972,1)" font-size="65.4">2</text>
<text transform="translate(1179.32,136.9) scale(0.972,1)" font-size="65.4">3</text>
<text transform="translate(1148.12,930.8) scale(0.972,1)" font-size="65.4">3</text>
<text transform="translate(1506.67,136.9) scale(0.972,1)" font-size="65.4">4</text>
<text transform="translate(1465.12,930.8) scale(0.972,1)" font-size="65.4">4</text>
<text transform="translate(1834.02,136.9) scale(0.972,1)" font-size="65.4">5</text>
<text transform="translate(1782.12,930.8) scale(0.972,1)" font-size="65.4">5</text>
<text transform="translate(2161.37,136.9) scale(0.972,1)" font-size="65.4">6</text>
<text transform="translate(2099.12,930.8) scale(0.972,1)" font-size="65.4">6</text>
<text transform="translate(412.42,1657) scale(0.972,1)" font-size="65.4">0.1</text>
<rect x="468.22" y="1649.13" width="12.04" height="8.87" fill="#fff"/>
<rect x="488.99" y="1649.13" width="11.21" height="8.87" fill="#fff"/>
<text transform="translate(653.53,1657) scale(0.972,1)" font-size="65.4">0.2</text>
<text transform="translate(894.64,1657) scale(0.972,1)" font-size="65.4">0.3</text>
<text transform="translate(1135.75,1657) scale(0.972,1)" font-size="65.4">0.4</text>
<text transform="translate(1376.86,1657) scale(0.972,1)" font-size="65.4">0.5</text>
<text transform="translate(1617.97,1657) scale(0.972,1)" font-size="65.4">0.6</text>
<text transform="translate(1859.08,1657) scale(0.972,1)" font-size="65.4">0.7</text>
<text transform="translate(2100.19,1657) scale(0.972,1)" font-size="65.4">0.8</text>
<text transform="translate(2341.3,1657) scale(0.972,1)" font-size="65.4">0.9</text>
<text transform="translate(1203.9,1734.6) scale(0.8954,1)" font-size="74" fill="#000">(</text>
<text transform="translate(1231.01,1734.6) scale(0.9316,1)" font-size="77.5" fill="#000">V<tspan font-weight="normal" font-size="73.39">/</tspan>v</text>
<text transform="translate(1339.13,1756) scale(1.0447,1)" font-size="47.7" fill="#000">0</text>
<text transform="translate(1368.83,1734.6) scale(0.9050,1)" font-size="74" fill="#000">)</text>
<text transform="translate(1412.4,1734.6) scale(0.9562,1)" font-size="73.4" fill="#000"><tspan font-weight="normal">/</tspan></text>
<text transform="translate(1451.68,1734.8) scale(0.9505,1)" font-size="78.3" fill="#000">Z</text>
<text transform="translate(1498.25,1693.3) scale(0.9670,1)" font-size="49.3" fill="#000">2<tspan font-weight="normal">/</tspan>3</text>
<text transform="translate(1497.83,1756) scale(0.9299,1)" font-size="50.9" fill="#000">HI</text>
<g transform="translate(119.3,1076.3) rotate(-90)">
<text transform="translate(1.35,0) scale(0.9479,1)" font-size="78.6" fill="#000">SP</text>
<text transform="translate(101.79,-41.9) scale(0.9292,1)" font-size="52.5" fill="#000">expt</text>
<text transform="translate(102.24,21) scale(0.9339,1)" font-size="51" fill="#000">e</text>
<text transform="translate(224.7,0) scale(0.9598,1)" font-size="73.5" fill="#000"><tspan font-weight="normal">/</tspan></text>
<text transform="translate(267.27,0) scale(0.9389,1)" font-size="78.6" fill="#000">SP</text>
<text transform="translate(367.89,-42.3) scale(0.9610,1)" font-size="50.9" fill="#000">SRIM</text>
<text transform="translate(367.83,21) scale(0.9867,1)" font-size="51" fill="#000">e</text>
</g>
</g>
<g id="curves">
<path d="M263,502.08 L272.94,499.37 L282.88,496.68 L292.82,494.03 L302.76,491.39 L312.7,488.79 L322.64,486.21 L332.58,483.65 L342.53,481.12 L352.47,478.61 L362.41,476.13 L372.35,473.68 L382.29,471.25 L392.23,468.84 L402.17,466.46 L412.11,464.11 L422.05,461.78 L431.99,459.47 L441.93,457.19 L451.87,454.94 L461.81,452.7 L471.75,450.5 L481.69,448.31 L491.63,446.15 L501.58,444.02 L511.52,441.9 L521.46,439.81 L531.4,437.75 L541.34,435.71 L551.28,433.69 L561.22,431.69 L571.16,429.72 L581.1,427.77 L591.04,425.84 L600.98,423.94 L610.92,422.06 L620.86,420.2 L630.8,418.36 L640.74,416.54 L650.68,414.75 L660.63,412.97 L670.57,411.22 L680.51,409.49 L690.45,407.78 L700.39,406.09 L710.33,404.42 L720.27,402.77 L730.21,401.14 L740.15,399.53 L750.09,397.94 L760.03,396.37 L769.97,394.82 L779.91,393.29 L789.85,391.78 L799.79,390.28 L809.74,388.81 L819.68,387.35 L829.62,385.91 L839.56,384.49 L849.5,383.09 L859.44,381.7 L869.38,380.34 L879.32,378.99 L889.26,377.65 L899.2,376.34 L909.14,375.04 L919.08,373.75 L929.02,372.48 L938.96,371.23 L948.9,370 L958.84,368.78 L968.79,367.57 L978.73,366.38 L988.67,365.21 L998.61,364.05 L1008.55,362.9 L1018.49,361.77 L1028.43,360.65 L1038.37,359.55 L1048.31,358.46 L1058.25,357.39 L1068.19,356.32 L1078.13,355.28 L1088.07,354.24 L1098.01,353.22 L1107.95,352.21 L1117.89,351.21 L1127.84,350.23 L1137.78,349.26 L1147.72,348.3 L1157.66,347.35 L1167.6,346.41 L1177.54,345.48 L1187.48,344.57 L1197.42,343.67 L1207.36,342.78 L1217.3,341.9 L1227.24,341.03 L1237.18,340.17 L1247.12,339.32 L1257.06,338.48 L1267,337.65 L1276.95,336.83 L1286.89,336.02 L1296.83,335.22 L1306.77,334.43 L1316.71,333.65 L1326.65,332.88 L1336.59,332.12 L1346.53,331.36 L1356.47,330.62 L1366.41,329.88 L1376.35,329.15 L1386.29,328.44 L1396.23,327.72 L1406.17,327.02 L1416.11,326.33 L1426.05,325.64 L1436,324.96 L1445.94,324.29 L1455.88,323.63 L1465.82,322.97 L1475.76,322.32 L1485.7,321.68 L1495.64,321.05 L1505.58,320.42 L1515.52,319.8 L1525.46,319.19 L1535.4,318.58 L1545.34,317.98 L1555.28,317.39 L1565.22,316.8 L1575.16,316.22 L1585.11,315.65 L1595.05,315.08 L1604.99,314.52 L1614.93,313.96 L1624.87,313.41 L1634.81,312.87 L1644.75,312.33 L1654.69,311.8 L1664.63,311.28 L1674.57,310.76 L1684.51,310.24 L1694.45,309.73 L1704.39,309.23 L1714.33,308.73 L1724.27,308.24 L1734.21,307.75 L1744.16,307.27 L1754.1,306.8 L1764.04,306.33 L1773.98,305.86 L1783.92,305.4 L1793.86,304.94 L1803.8,304.49 L1813.74,304.05 L1823.68,303.61 L1833.62,303.17 L1843.56,302.74 L1853.5,302.32 L1863.44,301.9 L1873.38,301.48 L1883.32,301.07 L1893.26,300.66 L1903.21,300.26 L1913.15,299.87 L1923.09,299.47 L1933.03,299.09 L1942.97,298.7 L1952.91,298.32 L1962.85,297.95 L1972.79,297.58 L1982.73,297.22 L1992.67,296.86 L2002.61,296.5 L2012.55,296.15 L2022.49,295.8 L2032.43,295.46 L2042.37,295.12 L2052.32,294.79 L2062.26,294.46 L2072.2,294.13 L2082.14,293.81 L2092.08,293.5 L2102.02,293.18 L2111.96,292.88 L2121.9,292.57 L2131.84,292.27 L2141.78,291.98 L2151.72,291.68 L2161.66,291.4 L2171.6,291.11 L2181.54,290.83 L2191.48,290.56 L2201.42,290.28 L2211.37,290.01 L2221.31,289.75 L2231.25,289.49 L2241.19,289.23 L2251.13,288.98 L2261.07,288.73 L2271.01,288.48 L2280.95,288.24 L2290.89,288 L2300.83,287.76 L2310.77,287.53 L2320.71,287.3 L2330.65,287.07 L2340.59,286.85 L2350.53,286.63 L2360.47,286.41 L2370.42,286.2 L2380.36,285.98 L2390.3,285.77 L2400.24,285.57 L2410.18,285.36 L2420.12,285.16 L2430.06,284.96 L2440,284.76" fill="none" stroke="#a0005c" stroke-width="10" stroke-linecap="round" stroke-linejoin="round" stroke-dasharray="26 20.97 0.01 20.97" clip-path="url(#c1)"/>
<path d="M263,1227 L2422,1227" fill="none" stroke="#9a38ff" stroke-width="10" stroke-linecap="round" stroke-dasharray="26 20.94 0.01 20.94" clip-path="url(#c2)"/>
</g>
</svg></body></html>
